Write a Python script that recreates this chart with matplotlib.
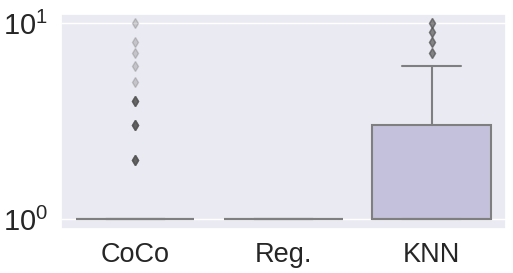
import matplotlib
matplotlib.use('Agg')
import matplotlib.pyplot as plt
import seaborn as sns

# kategorie i wartosci
kategorie = ['CoCo', 'Reg.', 'KNN']
coco = [1] * 100 + [2] * 8 + [3] * 8 + [4] * 7 + [5, 6, 7, 8, 10]
reg = [1] * 80
knn = [1] * 66 + [2] * 12 + [3] * 20 + [4] * 8 + [5] * 5 + [6] * 3 + [7] * 4 + [8] * 4 + [9] * 4 + [10] * 4
kolory = ['#f4f3f9', '#e5e4f0', '#c4c1dc']

sns.set_theme(style='darkgrid')
plt.rcParams['font.family'] = ['Liberation Sans', 'DejaVu Sans']
plt.rcParams['mathtext.fontset'] = 'custom'
plt.rcParams['mathtext.rm'] = 'Liberation Sans'
plt.rcParams['mathtext.it'] = 'Liberation Sans:italic'

fig, ax = plt.subplots(figsize=(5.13, 2.73), dpi=100)
szary = '#7f7f7f'
bp = ax.boxplot([coco, reg, knn], positions=range(len(kategorie)), widths=0.8,
                patch_artist=True, whis=1.5,
                boxprops=dict(edgecolor=szary, linewidth=1.5),
                medianprops=dict(color=szary, linewidth=1.5),
                whiskerprops=dict(color=szary, linewidth=1.5),
                capprops=dict(color=szary, linewidth=1.5),
                capwidths=0.4,
                flierprops=dict(marker='d', markersize=5, markerfacecolor='#555555',
                                markeredgecolor='#555555', alpha=0.25))
for patch, kolor in zip(bp['boxes'], kolory):
    patch.set_facecolor(kolor)

ax.set_yscale('log')
ax.set_xlim(-0.5, 2.5)
ax.set_ylim(10 ** -0.051, 10 ** 1.046)
ax.set_xticks(range(len(kategorie)))
ax.set_xticklabels(kategorie)
ax.tick_params(axis='x', labelsize=19.5)
ax.tick_params(axis='y', labelsize=21)
ax.minorticks_off()
ax.xaxis.grid(False)

fig.subplots_adjust(left=0.119, right=0.986, top=0.949, bottom=0.161)
fig.savefig('out.png', dpi=100)
